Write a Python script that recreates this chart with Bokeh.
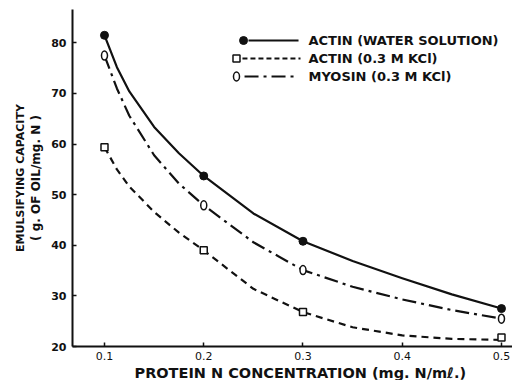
from bokeh.plotting import figure
from bokeh.models import Range1d, FixedTicker, Title
from bokeh.core.properties import value
from bokeh.embed import file_html
from bokeh.resources import INLINE

# ---- data ----
conc = [0.1, 0.2, 0.3, 0.5]
actin_water = [81.5, 53.7, 40.8, 27.5]
actin_kcl = [59.4, 39.0, 26.8, 21.8]
myosin_kcl = [77.5, 47.9, 35.1, 25.5]

# smooth hand-drawn curves
curve_x = [0.1, 0.1125, 0.125, 0.15, 0.175, 0.2, 0.25, 0.3, 0.35, 0.4, 0.45, 0.5]
curve_water = [81.5, 75.2, 70.4, 63.4, 58.2, 53.7, 46.3, 40.8, 36.9, 33.5, 30.3, 27.5]
curve_kcl = [59.4, 55.0, 51.6, 46.6, 42.5, 39.0, 31.4, 26.8, 23.8, 22.2, 21.5, 21.3]
curve_myosin = [77.5, 71.0, 65.6, 57.8, 52.2, 47.9, 40.6, 35.1, 31.8, 29.3, 27.2, 25.5]

x_ticks = [0.1, 0.2, 0.3, 0.4, 0.5]
x_tick_labels = ["0.1", "0.2", "0.3", "0.4", "0.5"]
y_ticks = [20, 30, 40, 50, 60, 70, 80]
y_tick_labels = ["20", "30", "40", "50", "60", "70", "80"]

legend_labels = ["ACTIN (WATER SOLUTION)", "ACTIN (0.3 M KCl)", "MYOSIN (0.3 M KCl)"]
x_title = "PROTEIN N CONCENTRATION (mg. N/m\u2113.)"
y_title_1 = "EMULSIFYING CAPACITY"
y_title_2 = "( g. OF OIL/mg. N )"

FONT = "DejaVu Sans"
INK = "#111111"

p = figure(width=512, height=380, output_backend="svg", toolbar_location=None,
           x_range=Range1d(0.06776, 0.5111), y_range=Range1d(20, 86.6),
           min_border_left=72, min_border_right=0, min_border_top=9, min_border_bottom=34)
p.outline_line_color = None
p.grid.visible = False
p.background_fill_color = "white"
p.border_fill_color = "white"

for ax in (p.xaxis[0], p.yaxis[0]):
    ax.axis_line_width = 2
    ax.axis_line_color = INK
    ax.major_tick_line_color = INK
    ax.major_tick_line_width = 1.5
    ax.major_tick_in = 4
    ax.major_tick_out = 0
    ax.minor_tick_line_color = None
    ax.major_label_text_font = FONT
    ax.major_label_text_color = INK
    ax.axis_label_text_font = FONT
    ax.axis_label_text_font_style = "bold"
    ax.axis_label_text_color = INK

p.xaxis.ticker = FixedTicker(ticks=x_ticks)
p.xaxis.major_label_overrides = dict(zip(x_ticks, x_tick_labels))
p.xaxis.major_label_text_font_size = "11px"
p.xaxis.major_label_standoff = 5
p.yaxis.ticker = FixedTicker(ticks=y_ticks)
p.yaxis.major_label_overrides = dict(zip(y_ticks, y_tick_labels))
p.yaxis.major_label_text_font_size = "11px"
p.yaxis.major_label_text_font_style = "bold"
p.yaxis.major_label_standoff = 6
p.yaxis.axis_label = y_title_2
p.yaxis.axis_label_text_font_size = "12px"
p.yaxis.axis_label_standoff = 5

t1 = Title(text=y_title_1, align="center", text_font=FONT, text_font_size="11px",
           text_font_style="bold", text_color=INK, standoff=0)
p.add_layout(t1, "left")

tx = Title(text=x_title, align="left", offset=62, text_font=FONT, text_font_size="14.5px",
           text_font_style="bold", text_color=INK, standoff=0)
p.add_layout(tx, "below")

# curves
p.line(curve_x, curve_water, line_color=INK, line_width=2.2, line_join="round")
p.line(curve_x, curve_kcl, line_color=INK, line_width=2.2, line_dash="7 5")
p.line(curve_x, curve_myosin, line_color=INK, line_width=2.2, line_dash="14 5 3 5")

# markers
p.scatter(conc, actin_water, marker="circle", size=8, fill_color=INK, line_color=INK)
p.scatter(conc, actin_kcl, marker="square", size=7, fill_color="white", line_color=INK, line_width=1.5)
p.ellipse(conc, myosin_kcl, width=6, height=9, width_units="screen", height_units="screen",
          fill_color="white", line_color=INK, line_width=1.5)

# legend (drawn by hand, as in the original)
leg_y = [80.47, 76.92, 73.36]
p.scatter([0.2401], [leg_y[0]], marker="circle", size=8, fill_color=INK, line_color=INK)
p.line([0.2451, 0.2955], [leg_y[0]] * 2, line_color=INK, line_width=2.2)
p.scatter([0.2330], [leg_y[1]], marker="square", size=7, fill_color="white", line_color=INK, line_width=1.5)
p.line([0.2390, 0.2975], [leg_y[1]] * 2, line_color=INK, line_width=2.2, line_dash="5 3")
p.ellipse([0.2330], [leg_y[2]], width=6, height=9, width_units="screen", height_units="screen",
          fill_color="white", line_color=INK, line_width=1.5)
p.line([0.2411, 0.2955], [leg_y[2]] * 2, line_color=INK, line_width=2.2, line_dash="14 5 3 5")
p.text([0.3055] * 3, leg_y, text=legend_labels, text_font=value(FONT), text_font_size="13px",
       text_font_style="bold", text_align="left", text_baseline="middle", text_color=INK)

open("out.html", "w").write(file_html(p, INLINE))
